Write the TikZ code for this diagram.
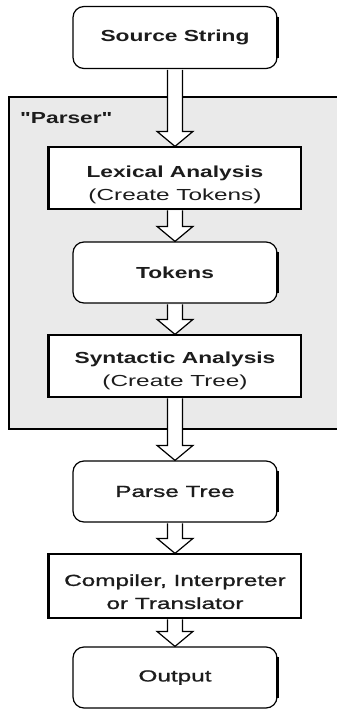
\documentclass[tikz,border=0pt]{standalone}
\usepackage{fontspec}
\usetikzlibrary{calc}
% wide, slightly stretched Arial-like faces for the labels
\newfontfamily\lblreg{Liberation Sans}[FakeStretch=1.52]
\newfontfamily\lblmed{Liberation Sans}[FakeStretch=1.52, FakeBold=1.2]
\newfontfamily\lblbold{Liberation Sans}[FakeStretch=1.42]
\definecolor{panel}{HTML}{EAEAEA}
\definecolor{ink}{HTML}{1C1C1C}

% hollow block arrow from the bottom of #1 to the top of #2
\newcommand\flowarrow[2]{%
  \draw[blockarrow] let \p1=(#1.south), \p2=(#2.north) in
    (\x1-7.5pt,\y1-0.7pt) -- (\x1-7.5pt,\y2+15pt) -- (\x1-18pt,\y2+15pt)
    -- (\x1,\y2) -- (\x1+18pt,\y2+15pt) -- (\x1+7.5pt,\y2+15pt)
    -- (\x1+7.5pt,\y1-0.7pt);}

\begin{document}
\begin{tikzpicture}[x=1pt,y=-1pt,
  box/.style={draw=black, line width=1.2pt, fill=white, inner sep=0pt,
    align=center, text=ink, font=\fontsize{16}{23}\selectfont},
  roundbox/.style={box, rounded corners=11pt, minimum width=204pt, minimum height=62pt},
  rectbox/.style={box, minimum width=252pt, minimum height=62pt},
  twolines/.style={text height=#1},
  blockarrow/.style={draw=black, line width=1.2pt, fill=white, line join=miter},
  heavyedge/.style={line width=3pt, line cap=butt}
]
\useasboundingbox (0,0) rectangle (337,709);
\clip (0,0) rectangle (337,709);

% parser panel, running off the right edge
\node[draw=black, line width=1.2pt, fill=panel, minimum width=340pt,
      minimum height=332pt, inner sep=0pt] (parser) at (179,263) {};
\node[anchor=west, inner sep=0pt, text=ink,
      font=\fontsize{16}{20}\selectfont\lblbold\bfseries] (parserlbl) at (20,118) {"Parser"};

% boxes of the pipeline
\node[roundbox] (src) at (175,37.5) {{\lblbold\bfseries Source String}};
\node[rectbox, twolines=48pt] (lex) at (175,178)
  {{\lblbold\bfseries Lexical Analysis}\\{\lblreg (Create Tokens)}};
\node[roundbox, minimum height=61pt] (tok) at (175,272.5) {{\lblbold\bfseries Tokens}};
\node[rectbox, twolines=44pt] (syn) at (175,366)
  {{\lblbold\bfseries Syntactic Analysis}\\{\lblreg (Create Tree)}};
\node[roundbox, minimum height=61pt] (tree) at (175,491.5) {{\lblmed Parse Tree}};
\node[rectbox, minimum height=64pt, twolines=46pt] (comp) at (175,586)
  {{\lblmed Compiler, Interpreter}\\{\lblmed or Translator}};
\node[roundbox, minimum height=61pt] (out) at (175,677.5) {{\lblmed Output}};

% heavier edges on one side of each box
\foreach \b in {lex,syn,comp}
  \draw[heavyedge] (\b.north west) -- (\b.south west);
\foreach \b in {src,tok,tree,out}
  \draw[heavyedge] ([yshift=-11pt]\b.north east) -- ([yshift=11pt]\b.south east);

% connectors
\flowarrow{src}{lex}
\flowarrow{lex}{tok}
\flowarrow{tok}{syn}
\flowarrow{syn}{tree}
\flowarrow{tree}{comp}
\flowarrow{comp}{out}
\end{tikzpicture}
\end{document}
